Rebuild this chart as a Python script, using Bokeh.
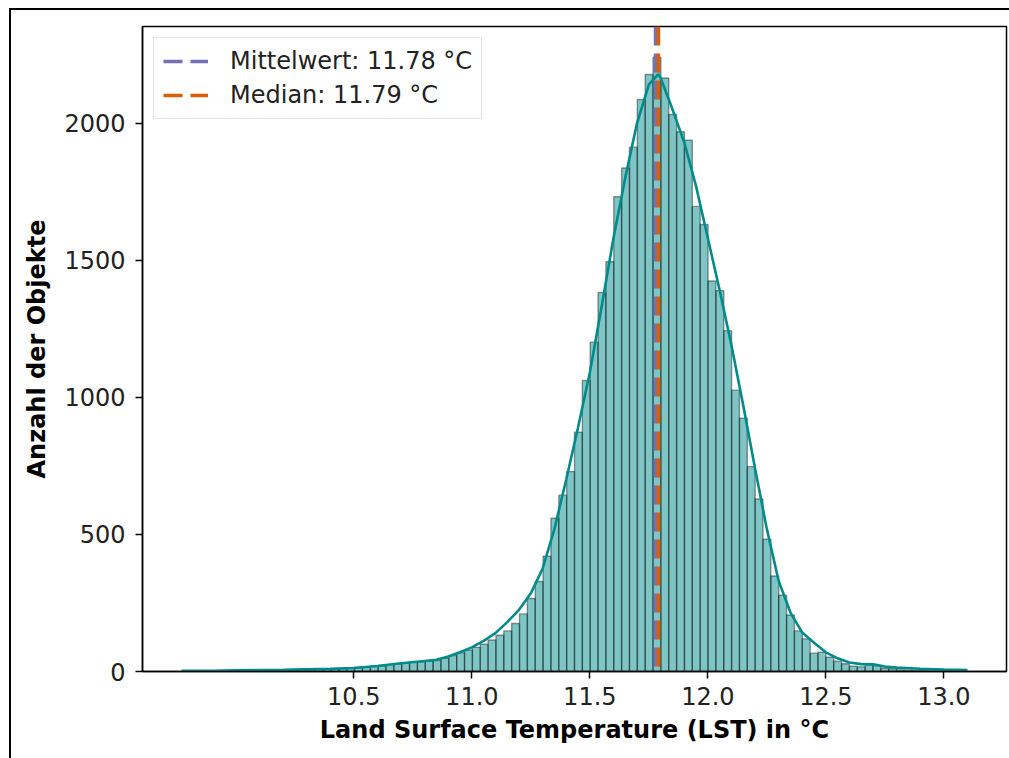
import numpy as np
from bokeh.plotting import figure
from bokeh.models import Range1d, FixedTicker, Legend, LegendItem, PrintfTickFormatter
from bokeh.embed import file_html
from bokeh.resources import INLINE

# ---- data ----
bin_min = 9.771
bin_max = 13.099
counts = [
    1, 1, 1, 1, 2, 2, 2, 2, 3, 3,
    3, 3, 4, 4, 5, 6, 7, 8, 9, 10,
    11, 13, 15, 17, 19, 22, 25, 28, 31, 34,
    36, 38, 40, 48, 58, 68, 78, 88, 100, 115,
    132, 148, 175, 210, 266, 328, 420, 559, 643, 729,
    873, 1061, 1201, 1382, 1494, 1731, 1836, 1912, 2086, 2177,
    2240, 2164, 2031, 1968, 1937, 1696, 1630, 1424, 1389, 1243,
    1026, 924, 747, 629, 482, 348, 278, 206, 148, 119,
    67, 70, 52, 38, 28, 19, 17, 24, 22, 12,
    10, 6, 5, 4, 3, 2, 2, 1, 1, 1,
]
kde_x = [9.77, 9.9, 10.0, 10.1, 10.2, 10.3, 10.4, 10.5, 10.6, 10.7, 10.8, 10.85,
         10.9, 10.95, 11.0, 11.05, 11.1, 11.15, 11.2, 11.25, 11.3, 11.35, 11.4,
         11.45, 11.5, 11.55, 11.6, 11.65, 11.7, 11.75, 11.79, 11.8, 11.85, 11.9,
         11.95, 12.0, 12.05, 12.1, 12.15, 12.2, 12.25, 12.3, 12.35, 12.4, 12.45,
         12.5, 12.55, 12.6, 12.65, 12.7, 12.75, 12.8, 12.9, 13.0, 13.1]
kde_y = [3, 3, 4, 5, 6, 8, 10, 13, 20, 30, 38, 43,
         55, 70, 88, 112, 140, 180, 225, 285, 375, 520, 700,
         890, 1090, 1330, 1580, 1800, 2000, 2140, 2178, 2164, 2050, 1930,
         1770, 1580, 1390, 1190, 970, 740, 520, 330, 215, 142, 105,
         70, 48, 33, 27, 26, 18, 14, 10, 7, 5]
mean_val = [11.78]
median_val = [11.79]
x_ticks = [10.5, 11.0, 11.5, 12.0, 12.5, 13.0]
y_ticks = [0, 500, 1000, 1500, 2000]
mean_label = "Mittelwert: 11.78 °C"
median_label = "Median: 11.79 °C"
x_label = "Land Surface Temperature (LST) in °C"
y_label = "Anzahl der Objekte"

# ---- derived ----
edges = np.linspace(bin_min, bin_max, len(counts) + 1)
span_x = bin_max - bin_min
x_start = bin_min - 0.05 * span_x
x_end = bin_max + 0.05 * span_x
y_end = max(counts) * 1.05

FONT = "DejaVu Sans"
DASH = "19 8"

p = figure(width=1009, height=758, output_backend="svg", toolbar_location=None,
           x_range=Range1d(x_start, x_end), y_range=Range1d(0, y_end),
           min_border_left=142, min_border_right=3, min_border_top=26, min_border_bottom=87)
p.styles = {
    "background": "linear-gradient(#000,#000) 9px 8px / 2px 760px no-repeat, "
                  "linear-gradient(#000,#000) 9px 8px / 1010px 2px no-repeat, #fff"
}
p.border_fill_color = None
p.background_fill_color = "white"
p.outline_line_color = "black"
p.outline_line_width = 1.5
p.xgrid.visible = False
p.ygrid.visible = False

p.quad(left=edges[:-1], right=edges[1:], bottom=0, top=counts,
       fill_color="darkcyan", fill_alpha=0.5, line_color="black", line_alpha=0.4, line_width=1.4)
p.line(kde_x, kde_y, line_color="darkcyan", line_width=2.6)

r_mean = p.vspan(x=mean_val, line_color="#7570b3", line_dash=DASH, line_width=3.5)
r_median = p.vspan(x=median_val, line_color="#d95f02", line_dash=DASH, line_width=3.5)

legend = Legend(items=[LegendItem(label=mean_label, renderers=[r_mean]),
                       LegendItem(label=median_label, renderers=[r_median])],
                location="top_left", margin=11, padding=9, spacing=6,
                glyph_width=45, glyph_height=28, label_height=28, label_standoff=22,
                label_text_font=FONT, label_text_font_size="24px", label_text_color="#222222",
                border_line_color="#cccccc", border_line_width=1.5,
                background_fill_color="white", background_fill_alpha=0.8)
p.add_layout(legend)

for ax in (p.xaxis[0], p.yaxis[0]):
    ax.axis_line_width = 1.5
    ax.major_tick_line_width = 1.5
    ax.major_tick_out = 7
    ax.major_tick_in = 0
    ax.minor_tick_out = 0
    ax.minor_tick_in = 0
    ax.major_label_text_font = FONT
    ax.major_label_text_font_size = "24px"
    ax.major_label_text_color = "#222222"
    ax.axis_label_text_font = FONT
    ax.axis_label_text_font_size = "24px"
    ax.axis_label_text_font_style = "bold"
    ax.axis_label_text_color = "black"

p.xaxis.ticker = FixedTicker(ticks=x_ticks)
p.xaxis.formatter = PrintfTickFormatter(format="%.1f")
p.yaxis.ticker = FixedTicker(ticks=y_ticks)
p.xaxis.axis_label = x_label
p.yaxis.axis_label = y_label
p.xaxis.major_label_standoff = 8
p.yaxis.major_label_standoff = 10
p.xaxis.axis_label_standoff = 8
p.yaxis.axis_label_standoff = 10

open("out.html", "w").write(file_html(p, INLINE))
